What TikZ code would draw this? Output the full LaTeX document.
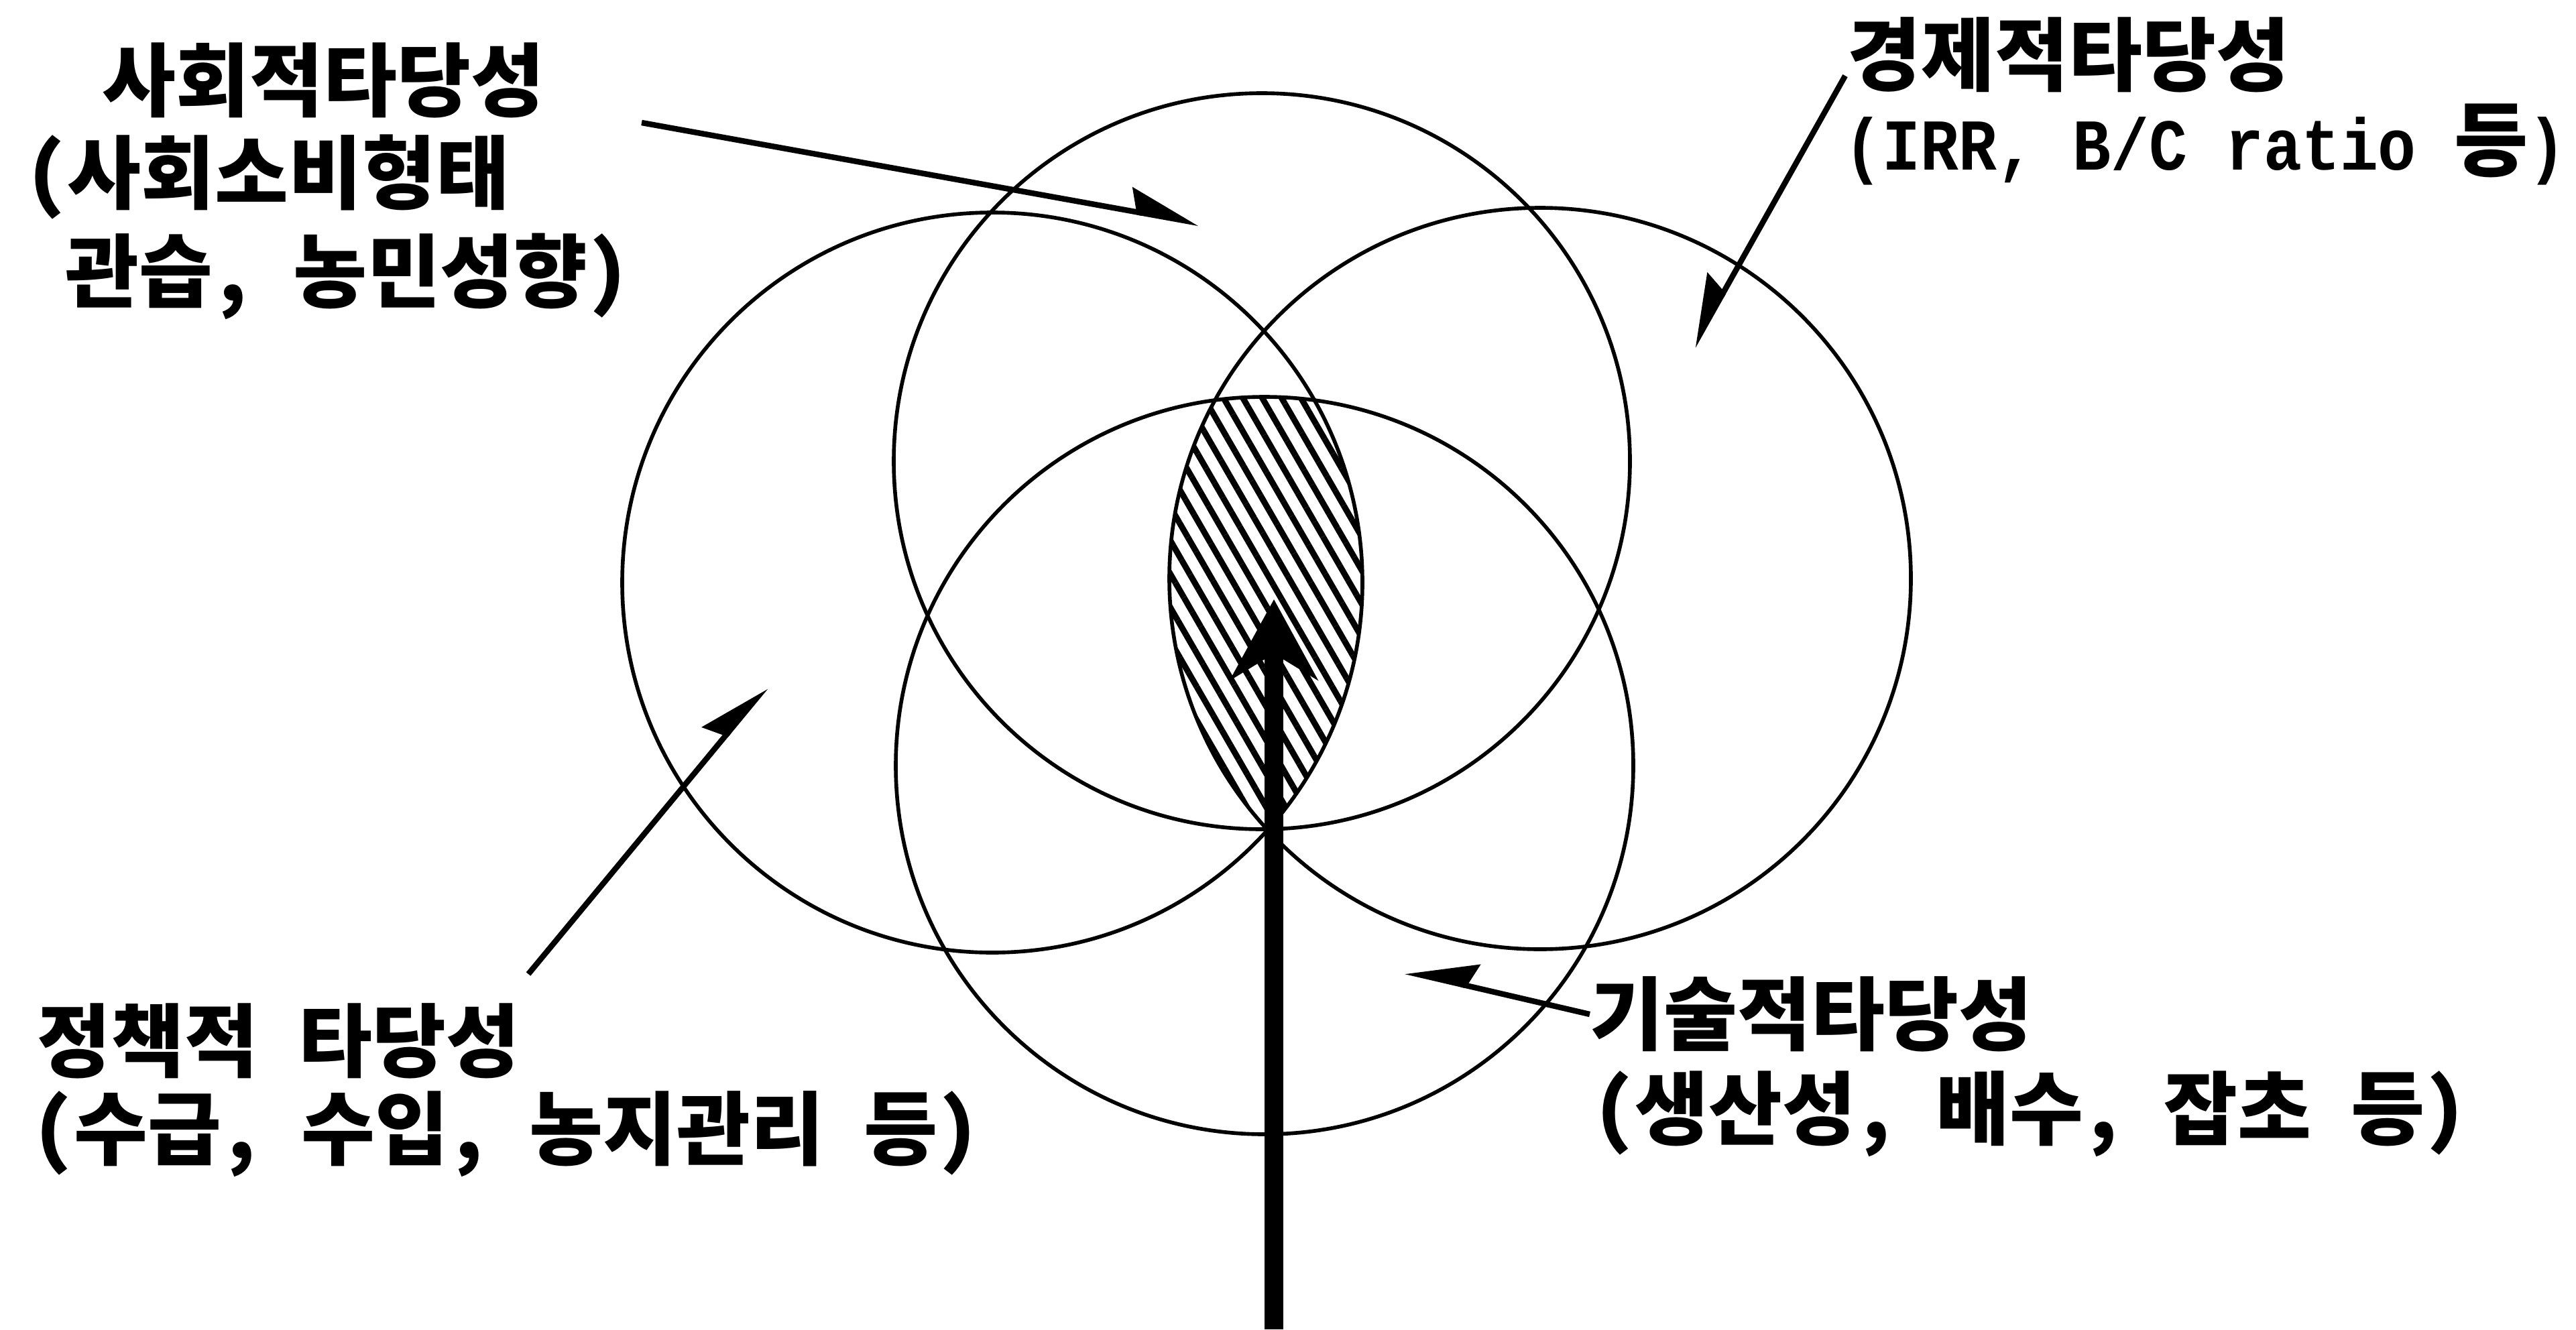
\documentclass[tikz,border=0pt]{standalone}
\usepackage{fontspec}
\usepackage{tikz}
\usetikzlibrary{arrows.meta,patterns.meta}
\newfontfamily\krfont{Noto Sans CJK KR}[FakeStretch=1.0,RawFeature=+hwid]
\newfontfamily\ratiofont{Liberation Mono}[FakeStretch=0.87]
\newcommand\ratiotext[1]{{\ratiofont\fontsize{31pt}{40pt}\selectfont #1}}

\begin{document}
\begin{tikzpicture}[
    ring/.style={line width=1.6pt},
    txt/.style={anchor=west, inner sep=0pt,
                font=\krfont\bfseries\fontsize{34pt}{40pt}\selectfont},
    pointer/.style={line width=2.4pt,
                    -{Stealth[harpoon, length=0.95cm, width=0.7cm, inset=0.12cm]}},
    pointerswap/.style={line width=2.4pt,
                    -{Stealth[harpoon, swap, length=0.95cm, width=0.7cm, inset=0.12cm]}},
    trunk/.style={line width=0.28cm, -{Stealth[length=1.2cm, width=1.3cm]}}
  ]
  \useasboundingbox (0,0) rectangle (38.42,-19.83);

  % circle centres
  \coordinate (T) at (18.82,-6.88);
  \coordinate (L) at (14.80,-8.69);
  \coordinate (R) at (22.97,-8.63);
  \coordinate (B) at (18.86,-11.42);

  % hatched core
  \begin{scope}
    \clip (L) circle (5.52);
    \clip (R) circle (5.53);
    \clip (T) circle (5.49);
    \clip (B) circle (5.50);
    \fill[pattern={Lines[angle=-60,distance=0.25cm,line width=0.09cm]}]
      (16,-5) rectangle (22,-13);
  \end{scope}

  % circles
  \foreach \c/\r in {T/5.49,L/5.52,R/5.53,B/5.50}
    \draw[ring] (\c) circle (\r);

  % labels
  \node[txt] (soc1) at (1.52,-1.20) {사회적타당성};
  \node[txt] (soc2) at (0.40,-2.64) {(사회소비형태};
  \node[txt] (soc3) at (0.97,-4.12) {관습, 농민성향)};

  \node[txt] (eco1) at (27.55,-0.82) {경제적타당성};
  \node[txt] (eco2) at (27.50,-2.16)
    {\ratiotext{(IRR, B/C ratio }등\ratiotext{)}};

  \node[txt] (pol1) at (0.55,-15.53) {정책적 타당성};
  \node[txt] (pol2) at (0.50,-16.92) {(수급, 수입, 농지관리 등)};

  \node[txt] (tec1) at (23.71,-15.13) {기술적타당성};
  \node[txt] (tec2) at (23.78,-16.62) {(생산성, 배수, 잡초 등)};

  % pointers
  \coordinate (socTail) at (9.57,-1.83);
  \coordinate (socTip) at (17.88,-3.33);
  \coordinate (ecoTail) at (27.52,-1.13);
  \coordinate (ecoTip) at (25.25,-5.17);
  \coordinate (polTail) at (7.88,-14.53);
  \coordinate (polTip) at (11.42,-10.25);
  \coordinate (tecTip) at (20.96,-14.49);

  \draw[pointer] (socTail) -- (socTip);
  \draw[pointerswap] (ecoTail) -- (ecoTip);
  \draw[pointer] (polTail) -- (polTip);
  \draw[pointerswap] (tec1.west) -- (tecTip);

  % main arrow
  \coordinate (stem) at (19.00,-19.83);
  \coordinate (stemTip) at (19.00,-8.94);
  \draw[trunk] (stem) -- (stemTip);
\end{tikzpicture}
\end{document}
